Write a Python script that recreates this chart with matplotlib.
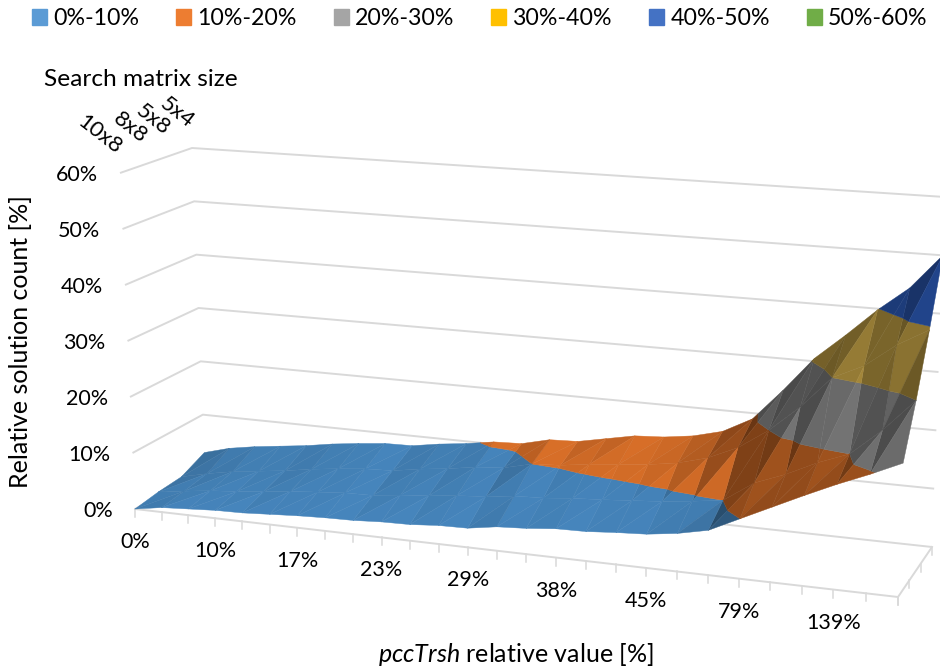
import matplotlib
matplotlib.use("Agg")
import matplotlib.pyplot as plt
from matplotlib.collections import PolyCollection
from matplotlib.patches import Patch
import numpy as np

plt.rcParams['font.family'] = ['Lato', 'DejaVu Sans']
plt.rcParams['mathtext.fontset'] = 'custom'
plt.rcParams['mathtext.it'] = 'Lato:italic'

series_names = ['10x8', '8x8', '5x8', '5x4']
tick_labels = ['0%', '10%', '17%', '23%', '29%', '38%', '45%', '79%', '139%']
z_ticks = [0, 10, 20, 30, 40, 50, 60]
band_names = ['0%-10%', '10%-20%', '20%-30%', '30%-40%', '40%-50%', '50%-60%']
band_colors = ['#5B9BD5', '#ED7D31', '#A5A5A5', '#FFC000', '#4472C4', '#70AD47']
# the surface is lit, so its base colours differ from the legend swatches
surf_colors = ['#5099D8', '#FA802E', '#B4B4B4', '#FFD25A', '#3C7DFF', '#70AD47']

# relative solution count, one list per search matrix size, 27 pccTrsh steps
s_10x8 = [0, 0.8, 1.1, 1.4, 1.5, 1.8, 2.1, 2.3, 2.4, 2.7, 2.8, 3.2, 3.3, 4.1,
          4.4, 4.9, 5.0, 5.4, 5.7, 6.4, 7.5, 10.0, 12.5, 15.0, 17.4, 19.6, 22.0]
s_8x8 = [0.6, 1.3, 1.9, 2.3, 2.8, 3.4, 3.8, 4.2, 4.3, 4.9, 5.3, 5.9, 6.2, 6.9,
         7.1, 7.6, 7.9, 8.3, 8.7, 9.3, 10.0, 13.5, 15.5, 18.0, 20.0, 24.5, 30.0]
s_5x8 = [0.9, 2.0, 2.9, 3.5, 4.1, 4.9, 5.5, 6.0, 6.2, 7.0, 7.6, 8.4, 8.8, 10.0,
         10.3, 11.0, 11.5, 12.0, 12.8, 14.2, 16.5, 20.0, 24.5, 30.0, 32.5, 36.5, 39.5]
s_5x4 = [2.9, 4.2, 5.0, 5.6, 6.2, 7.0, 7.6, 8.1, 8.2, 9.0, 9.6, 10.4, 10.6, 11.8,
         12.0, 13.0, 14.0, 14.3, 15.0, 16.3, 19.0, 24.5, 30.5, 35.0, 39.8, 44.0, 50.0]
values = np.array([s_10x8, s_8x8, s_5x8, s_5x4])
n_d, n_t = values.shape

# box corners in figure pixels: front-left, front-right, back-right, back-left
floor_px = np.array([(135, 509), (898, 597), (932, 547), (205, 468)], float)
top_px = np.array([(120, 173), (912, 232), (945, 197), (192, 148)], float)
t_warp = 1.109


def bilinear(c, u, d):
    return (c[0] * (1 - u) + c[1] * u) * (1 - d) + (c[3] * (1 - u) + c[2] * u) * d


def project(t, d, z):
    # t, d in 0..1, z in percent; ticks get slightly wider towards the right
    u = t / (t + t_warp * (1 - t))
    a = bilinear(floor_px, u, d)
    b = bilinear(top_px, u, d)
    return a + (b - a) * z / 60.0


def proj_grid(ti, di, z):
    return project(ti / (n_t - 1), di / (n_d - 1), z)


def clip_band(tri, lo, hi):
    # keep the part of a triangle (list of ti, di, z) between two heights
    poly = tri
    for level, sign in ((lo, 1), (hi, -1)):
        out = []
        for i in range(len(poly)):
            p = np.array(poly[i])
            q = np.array(poly[(i + 1) % len(poly)])
            fp = (p[2] - level) * sign
            fq = (q[2] - level) * sign
            if fp >= 0:
                out.append(p)
            if fp * fq < 0:
                out.append(p + (q - p) * fp / (fp - fq))
        poly = out
        if not poly:
            break
    return poly


def shade(slope):
    # facets that climb towards the right are darker
    slope = max(slope, 0)
    return 0.25 + 0.62 / np.sqrt(1 + (slope / 1.6) ** 2)


fig = plt.figure(figsize=(9.4, 6.7), dpi=100)
ax = fig.add_axes([0, 0, 1, 1])
ax.set_xlim(0, 940)
ax.set_ylim(670, 0)
ax.axis('off')

grid_col = '#D9D9D9'
for z in z_ticks:
    line = [project(0, 0, z), project(0, 1, z), project(1, 1, z)]
    ax.plot(*zip(*line), color=grid_col, lw=1.4, solid_capstyle='butt', zorder=1)

edge = [project(0, 0, 0), project(1, 0, 0), project(1, 1, 0)]
ax.plot(*zip(*edge), color=grid_col, lw=1.4, zorder=1)
for t in range(n_t):
    p = proj_grid(t, 0, 0)
    ax.plot([p[0], p[0]], [p[1], p[1] + 8], color=grid_col, lw=1.1, zorder=1)
for d in range(n_d):
    p = proj_grid(n_t - 1, d, 0)
    ax.plot([p[0], p[0]], [p[1], p[1] + 8], color=grid_col, lw=1.1, zorder=1)

# surface, back row first, right to left inside a row
polys, cols = [], []
for d in range(n_d - 2, -1, -1):
    for t in range(n_t - 2, -1, -1):
        a = (t, d, values[d, t])
        b = (t + 1, d, values[d, t + 1])
        c = (t + 1, d + 1, values[d + 1, t + 1])
        e = (t, d + 1, values[d + 1, t])
        for tri, slope in (([a, c, e], c[2] - e[2]), ([a, b, c], b[2] - a[2])):
            s = shade(slope)
            for k in range(len(surf_colors)):
                poly = clip_band(tri, k * 10, (k + 1) * 10)
                if len(poly) < 3:
                    continue
                polys.append([proj_grid(*v) for v in poly])
                cols.append(np.array(matplotlib.colors.to_rgb(surf_colors[k])) * s)
ax.add_collection(PolyCollection(polys, facecolors=cols, edgecolors=cols, linewidths=0.3, zorder=2))

for z in z_ticks:
    p = project(0, 0, z)
    ax.text(p[0] - 22, p[1] + 2, f'{z}%', ha='right', va='center', fontsize=15.5, color='black')

for i, lab in enumerate(tick_labels):
    p = proj_grid(i * 3, 0, 0)
    ax.text(p[0], p[1] + 33, lab, ha='center', va='center', fontsize=15.5, color='black')

name_pos = [(100, 135), (130, 128), (153, 120), (177, 113)]
for name, pos in zip(series_names, name_pos):
    ax.text(pos[0], pos[1], name, rotation=-38, rotation_mode='anchor', ha='center', va='center',
            fontsize=16, color='black')

ax.text(141, 79, 'Search matrix size', ha='center', va='center', fontsize=17.6)
ax.text(21, 342, 'Relative solution count [%]', rotation=90, ha='center', va='center', fontsize=18)
ax.text(516, 655, r'$\mathit{pccTrsh}$ relative value [%]', ha='center', va='center', fontsize=18)

handles = [Patch(color=c, label=n) for c, n in zip(band_colors, band_names)]
ax.legend(handles=handles, ncol=6, loc='upper left', bbox_to_anchor=(32, 8), bbox_transform=ax.transData,
          frameon=False, fontsize=16.7, handlelength=0.65, handleheight=0.65, handletextpad=0.26,
          columnspacing=1.6, borderaxespad=0, borderpad=0)

fig.savefig('out.png', dpi=100)
